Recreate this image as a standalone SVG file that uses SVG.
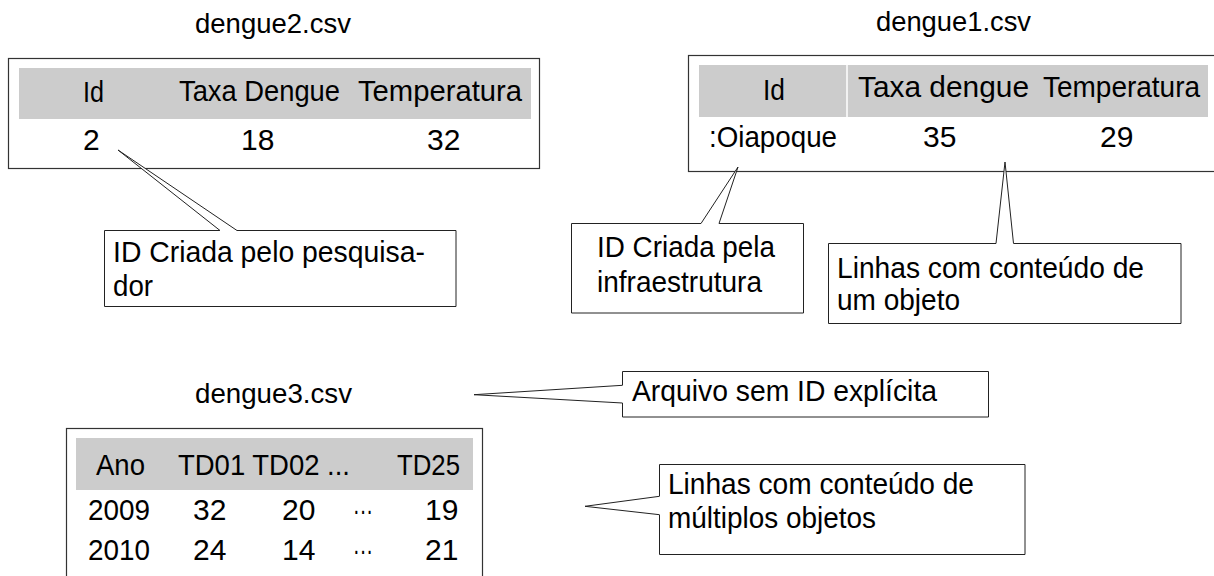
<svg xmlns="http://www.w3.org/2000/svg" width="1214" height="576" viewBox="0 0 1214 576">
<style>
text{font-family:"Liberation Sans",Arial,Helvetica,sans-serif;fill:#000;}
.t{font-size:30px;}
.title{font-size:27px;}
.box{fill:#fff;stroke:#333;stroke-width:1.2;}
.hdr{fill:#cccccc;stroke:none;}
.cfill{fill:#fff;stroke:none;}
.cline{fill:none;stroke:#222;stroke-width:1;}
.ptr{fill:#fff;stroke:#222;stroke-width:1;stroke-linejoin:miter;}
</style>
<rect width="1214" height="576" fill="#fff"/>

<g id="dengue2">
<text class="title" x="195" y="33" textLength="156" lengthAdjust="spacingAndGlyphs">dengue2.csv</text>
<rect class="box" x="8.5" y="58.5" width="531" height="110"/>
<rect class="hdr" x="19" y="68" width="512" height="51"/>
<text class="t" x="83" y="102" textLength="21" lengthAdjust="spacingAndGlyphs">Id</text>
<text class="t" x="179" y="101" textLength="161" lengthAdjust="spacingAndGlyphs">Taxa Dengue</text>
<text class="t" x="358" y="101" textLength="164" lengthAdjust="spacingAndGlyphs">Temperatura</text>
<text class="t" x="83" y="150">2</text>
<text class="t" x="241" y="150">18</text>
<text class="t" x="427" y="150">32</text>
</g>

<g id="dengue1">
<text class="title" x="876" y="31" textLength="155" lengthAdjust="spacingAndGlyphs">dengue1.csv</text>
<rect class="box" x="688.5" y="55.5" width="540" height="116"/>
<rect class="hdr" x="699" y="65" width="509" height="52"/>
<line x1="847" y1="65" x2="847" y2="117" stroke="#fff" stroke-width="1.5"/>
<text class="t" x="763" y="100" textLength="22" lengthAdjust="spacingAndGlyphs">Id</text>
<text class="t" x="858" y="97" textLength="171" lengthAdjust="spacingAndGlyphs">Taxa dengue</text>
<text class="t" x="1043" y="97" textLength="157" lengthAdjust="spacingAndGlyphs">Temperatura</text>
<text class="t" x="709" y="147" textLength="128" lengthAdjust="spacingAndGlyphs">:Oiapoque</text>
<text class="t" x="923" y="147">35</text>
<text class="t" x="1100" y="147">29</text>
</g>

<g id="dengue3">
<text class="title" x="195" y="403" textLength="157" lengthAdjust="spacingAndGlyphs">dengue3.csv</text>
<rect class="box" x="66.5" y="428.5" width="416" height="160"/>
<rect class="hdr" x="76" y="438" width="397" height="52"/>
<text class="t" x="96" y="475" textLength="49" lengthAdjust="spacingAndGlyphs">Ano</text>
<text class="t" x="178" y="475" textLength="172" lengthAdjust="spacingAndGlyphs">TD01 TD02 ...</text>
<text class="t" x="397" y="475" textLength="63" lengthAdjust="spacingAndGlyphs">TD25</text>
<text class="t" x="88" y="520" textLength="62" lengthAdjust="spacingAndGlyphs">2009</text>
<text class="t" x="193" y="520">32</text>
<text class="t" x="282" y="520">20</text>
<text class="t" x="353" y="520" textLength="20" lengthAdjust="spacingAndGlyphs">···</text>
<text class="t" x="425" y="520">19</text>
<text class="t" x="88" y="560" textLength="62" lengthAdjust="spacingAndGlyphs">2010</text>
<text class="t" x="193" y="560">24</text>
<text class="t" x="282" y="560">14</text>
<text class="t" x="353" y="560" textLength="20" lengthAdjust="spacingAndGlyphs">···</text>
<text class="t" x="425" y="560">21</text>
</g>

<g id="note-pesquisador">
<rect class="cfill" x="104.5" y="230.5" width="351.5" height="76"/>
<path class="cline" d="M220,230.5 H104.5 V306.5 H456 V230.5 H237"/>
<text class="t" x="113" y="262" textLength="312" lengthAdjust="spacingAndGlyphs">ID Criada pelo pesquisa-</text>
<text class="t" x="113" y="296" textLength="40" lengthAdjust="spacingAndGlyphs">dor</text>
</g>

<g id="note-infraestrutura">
<rect class="cfill" x="571.5" y="223.5" width="232" height="89.5"/>
<path class="cline" d="M701,223.5 H571.5 V313 H803.5 V223.5 H719"/>
<text class="t" x="597" y="257" textLength="178" lengthAdjust="spacingAndGlyphs">ID Criada pela</text>
<text class="t" x="597" y="292" textLength="165" lengthAdjust="spacingAndGlyphs">infraestrutura</text>
</g>

<g id="note-um-objeto">
<rect class="cfill" x="828.5" y="243.5" width="352.5" height="80"/>
<path class="cline" d="M996,243.5 H828.5 V323.5 H1181 V243.5 H1013.5"/>
<text class="t" x="837" y="277.5" textLength="307" lengthAdjust="spacingAndGlyphs">Linhas com conteúdo de</text>
<text class="t" x="837" y="310" textLength="123" lengthAdjust="spacingAndGlyphs">um objeto</text>
</g>

<g id="note-sem-id">
<rect class="cfill" x="622.5" y="371.5" width="366" height="45.5"/>
<path class="cline" d="M622.5,385.3 V371.5 H988.5 V417 H622.5 V403"/>
<text class="t" x="632" y="401" textLength="305" lengthAdjust="spacingAndGlyphs">Arquivo sem ID explícita</text>
</g>

<g id="note-multiplos">
<rect class="cfill" x="659.5" y="464.5" width="365.5" height="90"/>
<path class="cline" d="M659.5,496.3 V464.5 H1025 V554.5 H659.5 V514.7"/>
<text class="t" x="668" y="494" textLength="306" lengthAdjust="spacingAndGlyphs">Linhas com conteúdo de</text>
<text class="t" x="668" y="528" textLength="208" lengthAdjust="spacingAndGlyphs">múltiplos objetos</text>
</g>

<g id="connectors">
<path class="ptr" d="M220,230.5 L118,150 L237,230.5"/>
<path class="ptr" d="M701,223.5 L738,167 L719,223.5"/>
<path class="ptr" d="M996,243.5 L1005,162 L1013.5,243.5"/>
<path class="ptr" d="M622.5,385.3 L474,394.7 L622.5,403"/>
<path class="ptr" d="M659.5,496.3 L585,506.3 L659.5,514.7"/>
</g>
</svg>
